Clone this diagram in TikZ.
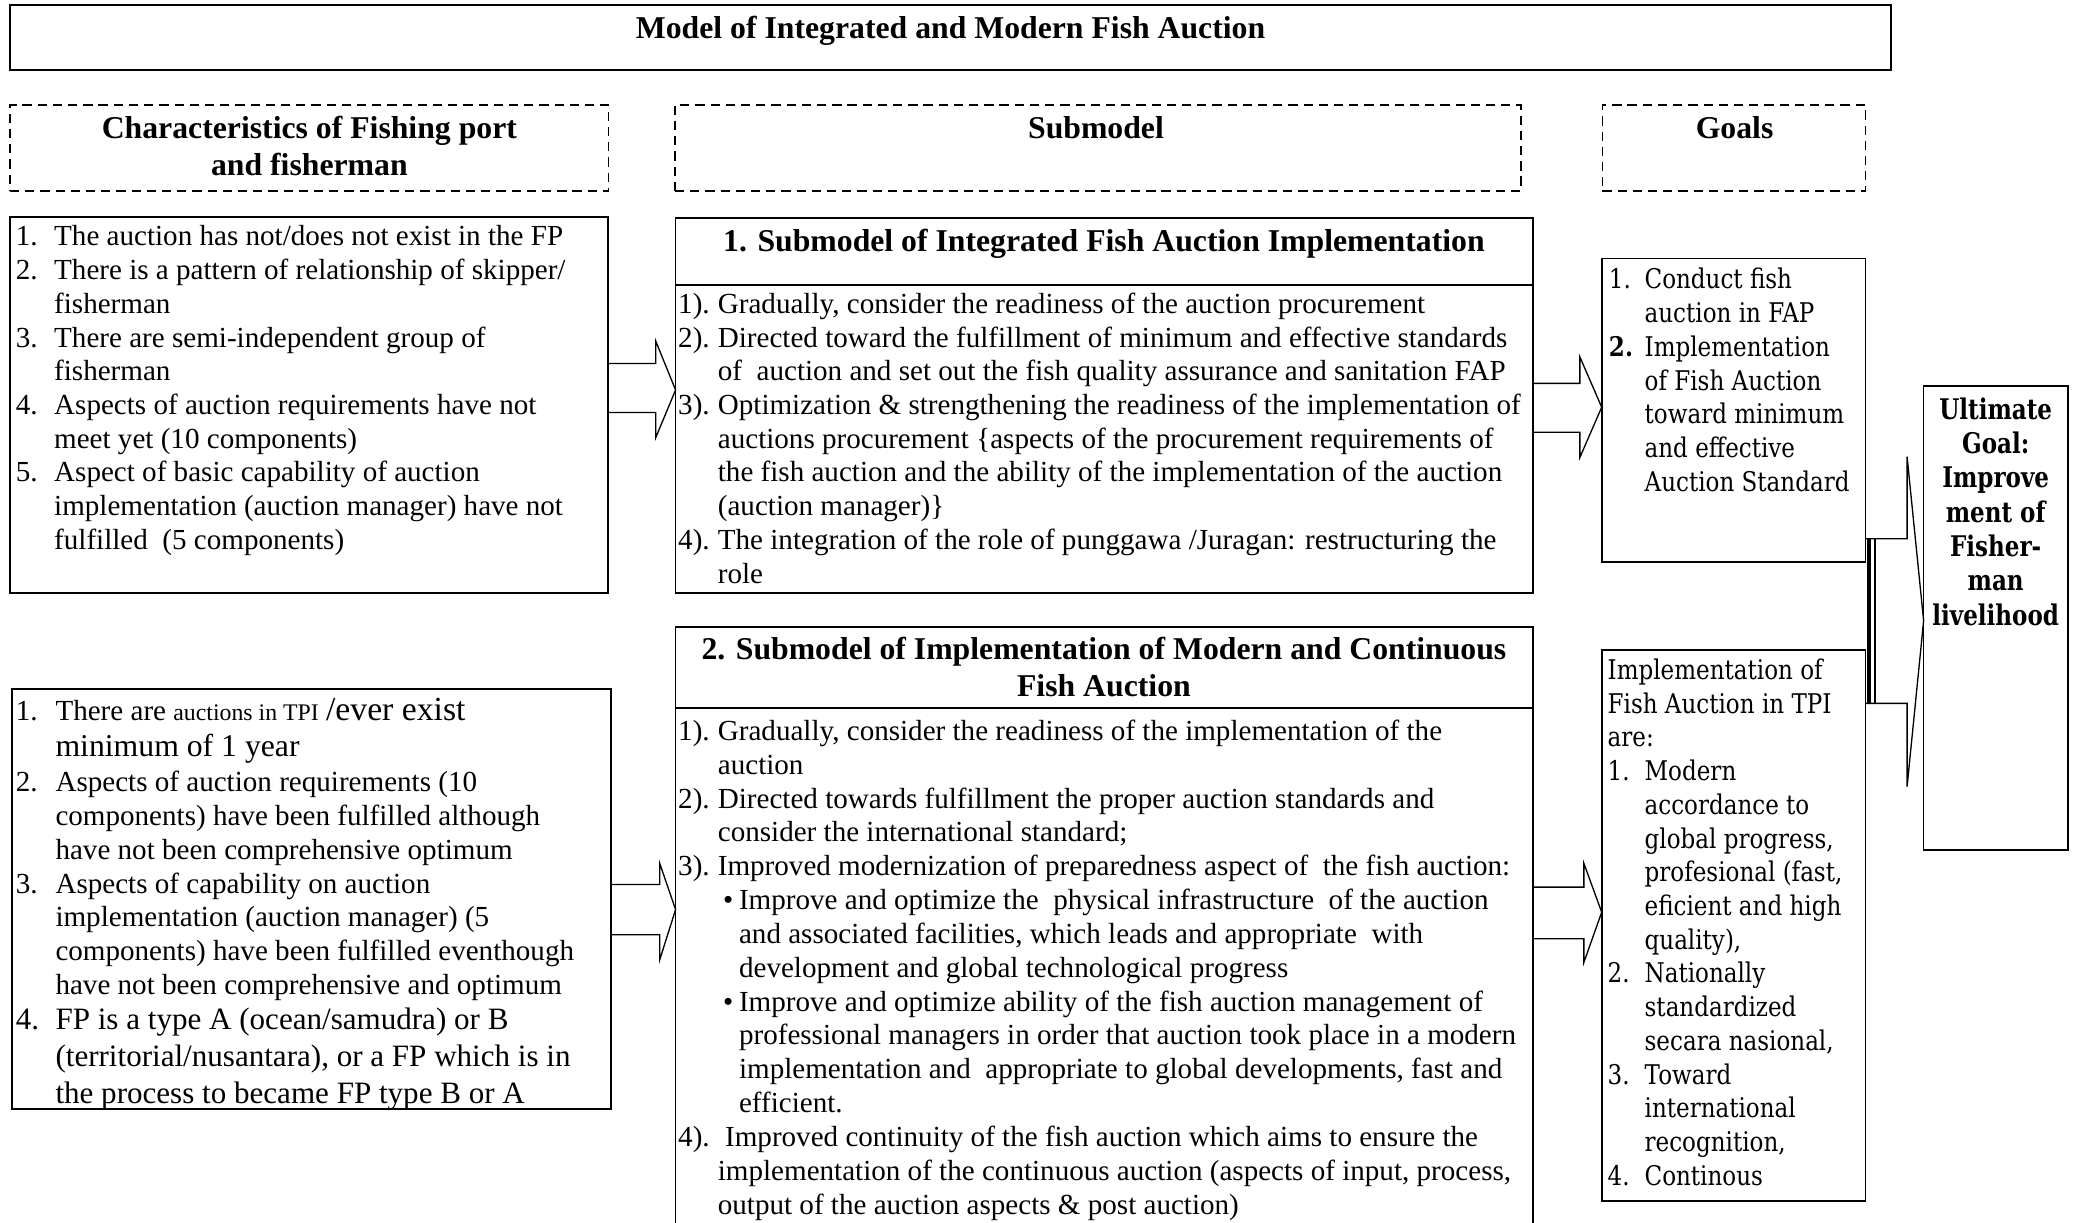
\documentclass[tikz,border=0pt]{standalone}
\usepackage{fontspec}
\setmainfont{Liberation Serif}
\newfontfamily\gfont[FakeStretch=0.85]{DejaVu Serif}
\newfontfamily\ufont[FakeStretch=0.81]{DejaVu Serif}
\newcommand\lb[3]{\makebox[#1][l]{#2}#3}
\newcommand\lineset[6]{\foreach \tline [count=\ii] in {#6}{\node[#1,anchor=base west] (#2\ii) at (#3,{#4+(\ii-1)*#5}) {\tline};}}
\begin{document}
\begin{tikzpicture}[x=1pt,y=-1pt,
  box/.style={draw,line width=1.3pt,inner sep=0,outer sep=0,anchor=north west},
  dbox/.style={box,dash pattern=on 7pt off 4.5pt,line width=1pt},
  txt/.style={inner sep=0,outer sep=0,font=\fontsize{22}{25.5}\selectfont},
  big/.style={inner sep=0,outer sep=0,font=\fontsize{23.5}{27.5}\selectfont},
  hd/.style={inner sep=0,outer sep=0,font=\fontsize{24}{27.6}\selectfont\bfseries},
  gtxt/.style={inner sep=0,outer sep=0,font=\gfont\fontsize{20.5}{25.5}\selectfont},
  ultxt/.style={inner sep=0,outer sep=0,font=\ufont\bfseries\fontsize{21.5}{26}\selectfont},
  barrow/.style={draw,line width=1pt,line join=miter}]
\useasboundingbox (0,0) rectangle (1568,925);

% frames
\node[box,minimum width=1423pt,minimum height=49pt] (T) at (7.5,4) {};
\node[dbox,minimum width=453pt,minimum height=65pt] (H1) at (7.5,79.5) {};
\node[dbox,minimum width=640pt,minimum height=65pt] (H2) at (510.5,79.5) {};
\node[dbox,minimum width=199pt,minimum height=65pt] (H3) at (1212,79.5) {};
\node[box,minimum width=452.5pt,minimum height=284.5pt] (L1) at (7.5,164) {};
\node[box,minimum width=648.5pt,minimum height=283.5pt] (S1) at (511,165) {};
\node[box,minimum width=199.5pt,minimum height=229.5pt] (G1) at (1211.5,195.5) {};
\node[box,minimum width=109pt,minimum height=351pt] (U) at (1455,292) {};
\node[box,minimum width=453pt,minimum height=318pt] (L2) at (9,521) {};
\node[box,minimum width=648.5pt,minimum height=480pt] (S2) at (511,474) {};
\node[box,minimum width=199.5pt,minimum height=417pt] (G2) at (1211.5,491.5) {};
\draw[line width=1.3pt] (S1.west|-0,215.6) -- (S1.east|-0,215.6);
\draw[line width=1.3pt] (S2.west|-0,535.5) -- (S2.east|-0,535.5);

% headings
\node[hd,anchor=base] (Tt) at (719,29.5) {Model of Integrated and Modern Fish Auction};
\node[hd,anchor=base] (H1a) at (234,104.5) {Characteristics of Fishing port};
\node[hd,anchor=base] (H1b) at (234,132.5) {and fisherman};
\node[hd,anchor=base] (H2t) at (829,104.5) {Submodel};
\node[hd,anchor=base] (H3t) at (1312,104.5) {Goals};
\node[hd,anchor=base] (S1h) at (835,190) {1. Submodel of Integrated Fish Auction Implementation};
\node[hd,anchor=base] (S2a) at (835,499) {2. Submodel of Implementation of Modern and Continuous};
\node[hd,anchor=base] (S2b) at (835,526.5) {Fish Auction};

% left box 1
\lineset{txt}{a}{12}{186}{25.5}{
{\lb{29pt}{1.}{The auction has not/does not exist in the FP}},
{\lb{29pt}{2.}{There is a pattern of relationship of skipper/}},
{\hspace*{29pt}fisherman},
{\lb{29pt}{3.}{There are semi-independent group of}},
{\hspace*{29pt}fisherman},
{\lb{29pt}{4.}{Aspects of auction requirements have not}},
{\hspace*{29pt}meet yet (10 components)},
{\lb{29pt}{5.}{Aspect of basic capability of auction}},
{\hspace*{29pt}implementation (auction manager) have not},
{\hspace*{29pt}fulfilled\ \ (5 components)}}

% submodel 1 body
\lineset{txt}{s}{513}{237}{25.5}{
{\lb{30pt}{1).}{Gradually, consider the readiness of the auction procurement}},
{\lb{30pt}{2).}{Directed toward the fulfillment of minimum and effective standards}},
{\hspace*{30pt}of\ \ auction and set out the fish quality assurance and sanitation FAP},
{\lb{30pt}{3).}{Optimization \& strengthening the readiness of the implementation of}},
{\hspace*{30pt}auctions procurement \{aspects of the procurement requirements of},
{\hspace*{30pt}the fish auction and the ability of the implementation of the auction},
{\hspace*{30pt}(auction manager)\}},
{\lb{30pt}{4).}{The integration of the role of punggawa /Juragan: restructuring the}},
{\hspace*{30pt}role}}

% submodel 2 body
\lineset{txt}{m}{513}{560}{25.6}{
{\lb{30pt}{1).}{Gradually, consider the readiness of the implementation of the}},
{\hspace*{30pt}auction},
{\lb{30pt}{2).}{Directed towards fulfillment the proper auction standards and}},
{\hspace*{30pt}consider the international standard;},
{\lb{30pt}{3).}{Improved modernization of preparedness aspect of\ \ the fish auction:}},
{\hspace*{34pt}\lb{12pt}{\textbullet}{Improve and optimize the\ \ physical infrastructure\ \ of the auction}},
{\hspace*{46pt}and associated facilities, which leads and appropriate\ \ with},
{\hspace*{46pt}development and global technological progress},
{\hspace*{34pt}\lb{12pt}{\textbullet}{Improve and optimize ability of the fish auction management of}},
{\hspace*{46pt}professional managers in order that auction took place in a modern},
{\hspace*{46pt}implementation and\ \ appropriate to global developments, fast and},
{\hspace*{46pt}efficient.},
{\lb{30pt}{4).}{\ Improved continuity of the fish auction which aims to ensure the}},
{\hspace*{30pt}implementation of the continuous auction (aspects of input, process,},
{\hspace*{30pt}output of the auction aspects \& post auction)}}

% left box 2
\begin{scope}
\clip (L2.north west) rectangle (L2.south east);
\node[txt,anchor=base west] (b1) at (12,545) {\lb{30pt}{1.}{There are {\fontsize{18}{20}\selectfont auctions in TPI} {\fontsize{25.5}{27}\selectfont /ever exist}}};
\node[txt,anchor=base west] (b2) at (12,572) {\hspace*{30pt}\fontsize{24}{27}\selectfont minimum of 1 year};
\node[txt,anchor=base west] (b3) at (12,599) {\lb{30pt}{2.}{Aspects of auction requirements (10}};
\node[txt,anchor=base west] (b4) at (12,624.5) {\hspace*{30pt}components) have been fulfilled although};
\node[txt,anchor=base west] (b5) at (12,650) {\hspace*{30pt}have not been comprehensive optimum};
\node[txt,anchor=base west] (b6) at (12,675.5) {\lb{30pt}{3.}{Aspects of capability on auction}};
\node[txt,anchor=base west] (b7) at (12,701) {\hspace*{30pt}implementation (auction manager) (5};
\node[txt,anchor=base west] (b8) at (12,726.5) {\hspace*{30pt}components) have been fulfilled eventhough};
\node[txt,anchor=base west] (b9) at (12,752) {\hspace*{30pt}have not been comprehensive and optimum};
\node[big,anchor=base west] (b10) at (12,779) {\lb{30pt}{4.}{FP is a type A (ocean/samudra) or B}};
\node[big,anchor=base west] (b11) at (12,807) {\hspace*{30pt}(territorial/nusantara), or a FP which is in};
\node[big,anchor=base west] (b12) at (12,835) {\hspace*{30pt}the process to became FP type B or A};
\end{scope}

% goals
\lineset{gtxt}{g}{1217}{218.5}{25.5}{
{\lb{27pt}{1.}{Conduct fish}},
{\hspace*{27pt}auction in FAP},
{\lb{27pt}{\textbf{2.}}{Implementation}},
{\hspace*{27pt}of Fish Auction},
{\hspace*{27pt}toward minimum},
{\hspace*{27pt}and effective},
{\hspace*{27pt}Auction Standard}}

\lineset{gtxt}{h}{1216}{514}{25.5}{
{Implementation of},
{Fish Auction in TPI},
{are:},
{\lb{28pt}{1.}{Modern}},
{\hspace*{28pt}accordance to},
{\hspace*{28pt}global progress,},
{\hspace*{28pt}profesional (fast,},
{\hspace*{28pt}eficient and high},
{\hspace*{28pt}quality),},
{\lb{28pt}{2.}{Nationally}},
{\hspace*{28pt}standardized},
{\hspace*{28pt}secara nasional,},
{\lb{28pt}{3.}{Toward}},
{\hspace*{28pt}international},
{\hspace*{28pt}recognition,},
{\lb{28pt}{4.}{Continous}}}

\foreach \tline [count=\ii] in {Ultimate,Goal:,Improve,ment of,Fisher-,man,livelihood}
  {\node[ultxt,anchor=base] (u\ii) at (1509.5,{317+(\ii-1)*26}) {\tline};}

% block arrows
\draw[barrow] (L1.east|-0,275) -- (496,275) -- (496,258) -- (S1.west|-0,295) -- (496,331) -- (496,312) -- (L1.east|-0,312);
\draw[barrow] (S1.east|-0,290) -- (1195,290) -- (1195,270) -- (G1.west|-0,308) -- (1195,346) -- (1195,327) -- (S1.east|-0,327);
\draw[barrow] (L2.east|-0,669) -- (499,669) -- (499,653) -- (S2.west|-0,688) -- (499,726) -- (499,707) -- (L2.east|-0,707);
\draw[barrow] (S2.east|-0,671) -- (1198,671) -- (1198,653) -- (G2.west|-0,690) -- (1198,728) -- (1198,710) -- (S2.east|-0,710);
\draw[barrow] (G1.east|-0,407.5) -- (1442.5,407.5) -- (1442.5,345.5) -- (U.west|-0,469.5) -- (1442.5,595) -- (1442.5,532) -- (G2.east|-0,532);
\draw[line width=3pt] (1413.5,407.5) -- (1413.5,532);
\draw[line width=2pt] (1418.2,407.5) -- (1418.2,532);
\end{tikzpicture}
\end{document}
